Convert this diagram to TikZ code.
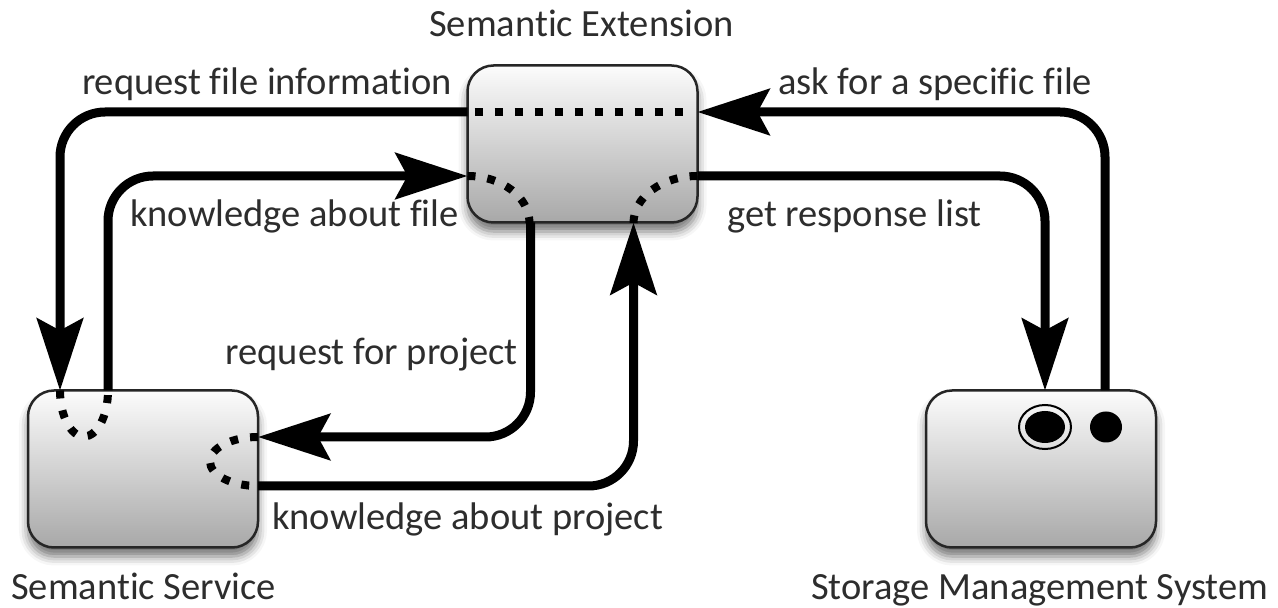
\documentclass[tikz,border=0pt]{standalone}
\usepackage{fontspec}
\setmainfont{Carlito}[Ligatures=NoCommon]
\usepackage{tikz}
\usetikzlibrary{arrows.meta, positioning, shadows.blur}
\definecolor{labelgrey}{RGB}{45, 45, 45}
\definecolor{boxtop}{RGB}{252, 252, 252}
\definecolor{boxbottom}{RGB}{168, 168, 168}

\tikzset{
  comp/.style={rectangle, draw=black!85, line width=2.5pt, rounded corners=26pt, minimum width=230pt, minimum height=157pt, top color=boxtop, bottom color=boxbottom, outer sep=0pt, blur shadow={shadow xshift=0pt, shadow yshift=-9pt, shadow blur radius=9pt, shadow opacity=55}},
  flow/.style={line width=9pt, rounded corners=45pt, -{Stealth[length=72pt, width=46pt, inset=12pt]}},
  port/.style={line width=8pt, dash pattern=on 8pt off 12pt},
  lbl/.style={font=\fontsize{38.5}{46}\selectfont, text=labelgrey, inner sep=0pt},
}

\begin{document}
\begin{tikzpicture}[x=1pt, y=1pt]
\useasboundingbox (0,0) rectangle (1278,608);

% components
\node[comp] (ext) at (582.5,464) {};
\node[comp] (svc) at (143,139) {};
\node[comp] (sms) at (1041,139) {};

% names
\node[lbl, anchor=base] (extname) at (581.5,571) {Semantic Extension};
\node[lbl, anchor=base west] (svcname) at (11,8) {Semantic Service};
\node[lbl, anchor=base west] (smsname) at (811,8) {Storage Management System};

% inner ports
\draw[port] ([xshift=7pt, yshift=32pt]ext.west) -- ([xshift=-7pt, yshift=32pt]ext.east);
\draw[port] ([yshift=-32pt]ext.west) arc[start angle=90, end angle=0, x radius=62pt, y radius=47pt];
\draw[port] ([yshift=-32pt]ext.east) arc[start angle=90, end angle=180, x radius=64pt, y radius=47pt];
\draw[port] ([xshift=-83pt]svc.north) arc[start angle=180, end angle=360, x radius=24pt, y radius=46pt];
\draw[port] ([yshift=32pt]svc.east) arc[start angle=90, end angle=270, x radius=48pt, y radius=24.5pt];
\draw[line width=2pt] ([shift={(4pt,42pt)}]sms.center) ellipse[x radius=26pt, y radius=22pt];
\fill ([shift={(4pt,42pt)}]sms.center) ellipse[x radius=20pt, y radius=16pt];
\fill ([shift={(65pt,42pt)}]sms.center) ellipse[x radius=16pt, y radius=15.5pt];

% messages
\draw[flow] ([yshift=32pt]ext.west) -| ([xshift=-83pt]svc.north);
\draw[flow] ([xshift=-35pt]svc.north) |- ([yshift=-32pt]ext.west);
\draw[flow] ([xshift=-52pt]ext.south) |- ([yshift=32pt]svc.east);
\draw[flow] ([yshift=-17pt]svc.east) -| ([xshift=51pt]ext.south);
\draw[flow] ([yshift=-32pt]ext.east) -| ([xshift=4pt]sms.north);
\draw[flow] ([xshift=64pt]sms.north) |- ([yshift=32pt]ext.east);

\node[lbl, anchor=base east] (reqfile) at (452,513) {request file information};
\node[lbl, anchor=base west] (askfile) at (778,513) {ask for a specific file};
\node[lbl, anchor=base west] (knowfile) at (130,381) {knowledge about file};
\node[lbl, anchor=base west] (getlist) at (727,381) {get response list};
\node[lbl, anchor=base east] (reqproj) at (518,243) {request for project};
\node[lbl, anchor=base west] (knowproj) at (272,78) {knowledge about project};
\end{tikzpicture}
\end{document}
